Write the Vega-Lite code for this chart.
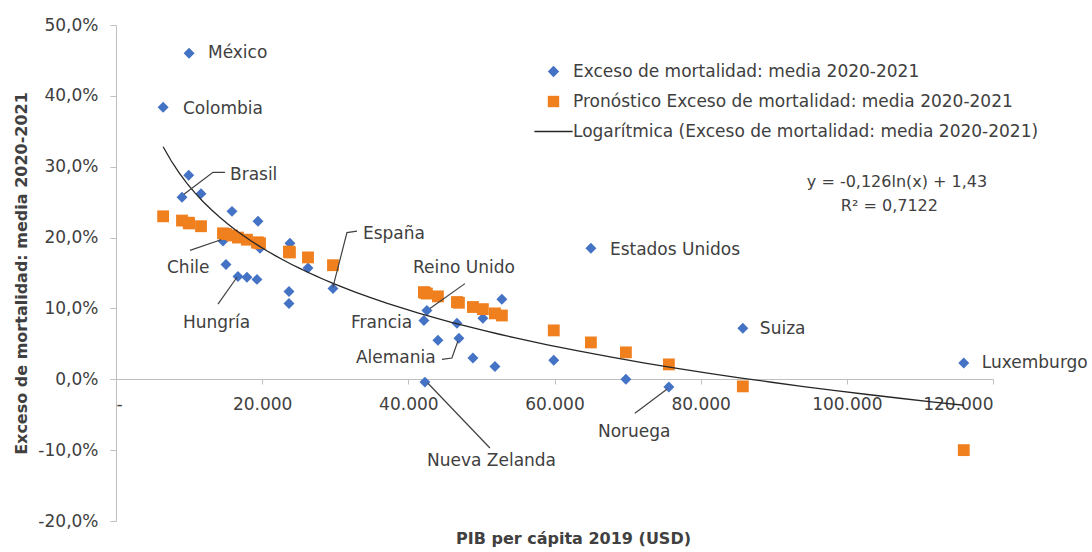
{
  "$schema": "https://vega.github.io/schema/vega-lite/v6.json",
  "width": 877,
  "height": 496,
  "autosize": "none",
  "padding": {"left": 116, "top": 25, "right": 99, "bottom": 31},
  "background": "white",
  "config": {
    "locale": {"number": {"decimal": ",", "thousands": ".", "grouping": [3], "currency": ["", " €"], "minus": "-"}},
    "view": {"stroke": null},
    "font": "DejaVu Sans",
    "text": {"font": "DejaVu Sans", "fontSize": 17, "color": "#404040", "align": "left", "baseline": "middle"}
  },
  "datasets": {
    "paises": [
      {"pais": "Colombia", "pib": 6450, "exceso": 0.384, "pronostico": 0.230},
      {"pais": "Brasil", "pib": 9030, "exceso": 0.257, "pronostico": 0.224},
      {"pais": "México", "pib": 10000, "exceso": 0.460, "pronostico": 0.220},
      {"pais": null, "pib": 9950, "exceso": 0.288, "pronostico": 0.221},
      {"pais": null, "pib": 11630, "exceso": 0.262, "pronostico": 0.216},
      {"pais": "Chile", "pib": 14640, "exceso": 0.195, "pronostico": 0.206},
      {"pais": null, "pib": 15050, "exceso": 0.162, "pronostico": 0.205},
      {"pais": null, "pib": 15870, "exceso": 0.237, "pronostico": 0.203},
      {"pais": "Hungría", "pib": 16690, "exceso": 0.145, "pronostico": 0.200},
      {"pais": null, "pib": 17920, "exceso": 0.144, "pronostico": 0.197},
      {"pais": null, "pib": 19290, "exceso": 0.141, "pronostico": 0.193},
      {"pais": null, "pib": 19430, "exceso": 0.223, "pronostico": 0.193},
      {"pais": null, "pib": 19700, "exceso": 0.185, "pronostico": 0.192},
      {"pais": null, "pib": 23670, "exceso": 0.124, "pronostico": 0.180},
      {"pais": null, "pib": 23670, "exceso": 0.107, "pronostico": 0.180},
      {"pais": null, "pib": 23800, "exceso": 0.192, "pronostico": 0.179},
      {"pais": null, "pib": 26270, "exceso": 0.157, "pronostico": 0.172},
      {"pais": "España", "pib": 29690, "exceso": 0.128, "pronostico": 0.161},
      {"pais": "Francia", "pib": 42130, "exceso": 0.083, "pronostico": 0.123},
      {"pais": "Nueva Zelanda", "pib": 42270, "exceso": -0.004, "pronostico": 0.122},
      {"pais": "Reino Unido", "pib": 42540, "exceso": 0.097, "pronostico": 0.121},
      {"pais": null, "pib": 44050, "exceso": 0.055, "pronostico": 0.117},
      {"pais": null, "pib": 46650, "exceso": 0.079, "pronostico": 0.109},
      {"pais": "Alemania", "pib": 46920, "exceso": 0.058, "pronostico": 0.108},
      {"pais": null, "pib": 48840, "exceso": 0.030, "pronostico": 0.102},
      {"pais": null, "pib": 50200, "exceso": 0.086, "pronostico": 0.099},
      {"pais": null, "pib": 51850, "exceso": 0.018, "pronostico": 0.093},
      {"pais": null, "pib": 52800, "exceso": 0.113, "pronostico": 0.090},
      {"pais": null, "pib": 59900, "exceso": 0.027, "pronostico": 0.069},
      {"pais": "Estados Unidos", "pib": 64980, "exceso": 0.185, "pronostico": 0.052},
      {"pais": null, "pib": 69770, "exceso": 0.000, "pronostico": 0.038},
      {"pais": "Noruega", "pib": 75650, "exceso": -0.011, "pronostico": 0.021},
      {"pais": "Suiza", "pib": 85770, "exceso": 0.072, "pronostico": -0.010},
      {"pais": "Luxemburgo", "pib": 116000, "exceso": 0.023, "pronostico": -0.100}
    ],
    "etiquetas": [
      {"texto": "México", "x": 12585, "y": 0.460},
      {"texto": "Colombia", "x": 9165, "y": 0.381},
      {"texto": "Brasil", "x": 15595, "y": 0.289},
      {"texto": "Chile", "x": 6977, "y": 0.157},
      {"texto": "Hungría", "x": 9165, "y": 0.080},
      {"texto": "España", "x": 33790, "y": 0.205},
      {"texto": "Reino Unido", "x": 40630, "y": 0.157},
      {"texto": "Francia", "x": 32150, "y": 0.079},
      {"texto": "Alemania", "x": 32830, "y": 0.030},
      {"texto": "Nueva Zelanda", "x": 42550, "y": -0.116},
      {"texto": "Estados Unidos", "x": 67580, "y": 0.183},
      {"texto": "Suiza", "x": 88100, "y": 0.071},
      {"texto": "Noruega", "x": 65940, "y": -0.075},
      {"texto": "Luxemburgo", "x": 118470, "y": 0.023}
    ],
    "ecuacion": [
      {"texto": "y = -0,126ln(x) + 1,43", "x": 94530, "y": 0.278},
      {"texto": "R² = 0,7122", "x": 99180, "y": 0.245}
    ],
    "guias": [
      {"id": "Brasil", "ord": 1, "x": 14911, "y": 0.292},
      {"id": "Brasil", "ord": 2, "x": 13269, "y": 0.292},
      {"id": "Brasil", "ord": 3, "x": 9302, "y": 0.261},
      {"id": "Chile", "ord": 1, "x": 10123, "y": 0.182},
      {"id": "Chile", "ord": 2, "x": 14364, "y": 0.197},
      {"id": "Hungría", "ord": 1, "x": 13953, "y": 0.106},
      {"id": "Hungría", "ord": 2, "x": 16553, "y": 0.144},
      {"id": "España", "ord": 1, "x": 32969, "y": 0.209},
      {"id": "España", "ord": 2, "x": 31601, "y": 0.207},
      {"id": "España", "ord": 3, "x": 29685, "y": 0.130},
      {"id": "Reino Unido", "ord": 1, "x": 47743, "y": 0.135},
      {"id": "Reino Unido", "ord": 2, "x": 42955, "y": 0.100},
      {"id": "Alemania", "ord": 1, "x": 44596, "y": 0.028},
      {"id": "Alemania", "ord": 2, "x": 45964, "y": 0.030},
      {"id": "Alemania", "ord": 3, "x": 46785, "y": 0.054},
      {"id": "Nueva Zelanda", "ord": 1, "x": 42681, "y": -0.0056},
      {"id": "Nueva Zelanda", "ord": 2, "x": 51163, "y": -0.097},
      {"id": "Noruega", "ord": 1, "x": 71000, "y": -0.048},
      {"id": "Noruega", "ord": 2, "x": 75376, "y": -0.014}
    ]
  },
  "layer": [
    {
      "data": {"name": "paises"},
      "mark": {"type": "point", "filled": true, "size": 120, "opacity": 1},
      "encoding": {
        "x": {
          "field": "pib", "type": "quantitative",
          "scale": {"domain": [0, 120000], "nice": false, "zero": false},
          "axis": {
            "title": "PIB per cápita 2019 (USD)",
            "values": [0, 20000, 40000, 60000, 80000, 100000, 120000],
            "format": ",d",
            "labelExpr": "datum.value === 0 ? '-' : datum.label",
            "offset": -142,
            "grid": false,
            "domainColor": "#bfbfbf", "tickColor": "#bfbfbf", "tickSize": 5,
            "labelPadding": 12, "labelFont": "DejaVu Sans", "labelFontSize": 17, "labelColor": "#404040",
            "titleFont": "DejaVu Sans", "titleFontSize": 16, "titleFontWeight": "bold", "titleColor": "#404040",
            "titleX": 457, "titleY": 159, "titleAlign": "center", "titleBaseline": "middle"
          }
        },
        "y": {
          "field": "exceso", "type": "quantitative",
          "scale": {"domain": [-0.2, 0.5], "nice": false, "zero": false},
          "axis": {
            "title": "Exceso de mortalidad: media 2020-2021",
            "values": [-0.2, -0.1, 0, 0.1, 0.2, 0.3, 0.4, 0.5],
            "format": ".1%",
            "grid": false,
            "domainColor": "#bfbfbf", "tickColor": "#bfbfbf", "tickSize": 6,
            "labelPadding": 12, "labelFont": "DejaVu Sans", "labelFontSize": 17, "labelColor": "#404040",
            "titleFont": "DejaVu Sans", "titleFontSize": 16, "titleFontWeight": "bold", "titleColor": "#404040",
            "titleX": -95, "titleBaseline": "middle"
          }
        },
        "color": {
          "datum": "Exceso de mortalidad: media 2020-2021", "type": "nominal",
          "scale": {
            "domain": ["Exceso de mortalidad: media 2020-2021", "Pronóstico Exceso de mortalidad: media 2020-2021", "Logarítmica (Exceso de mortalidad: media 2020-2021)"],
            "range": ["#4472C4", "#F07F1E", "#262626"]
          },
          "legend": {
            "orient": "none", "legendX": 429, "legendY": 38, "title": null, "padding": 0,
            "labelFont": "DejaVu Sans", "labelFontSize": 17, "labelColor": "#404040", "labelLimit": 600,
            "rowPadding": 12, "labelOffset": 11, "symbolSize": 130
          }
        },
        "shape": {
          "datum": "Exceso de mortalidad: media 2020-2021", "type": "nominal",
          "scale": {
            "domain": ["Exceso de mortalidad: media 2020-2021", "Pronóstico Exceso de mortalidad: media 2020-2021", "Logarítmica (Exceso de mortalidad: media 2020-2021)"],
            "range": ["diamond", "square", "M-3.35,-0.11H3.35V0.11H-3.35Z"]
          },
          "legend": {
            "orient": "none", "legendX": 429, "legendY": 38, "title": null, "padding": 0,
            "labelFont": "DejaVu Sans", "labelFontSize": 17, "labelColor": "#404040", "labelLimit": 600,
            "rowPadding": 12, "labelOffset": 11, "symbolSize": 130
          }
        }
      }
    },
    {
      "data": {"name": "paises"},
      "mark": {"type": "point", "filled": true, "size": 140, "opacity": 1},
      "encoding": {
        "x": {"field": "pib", "type": "quantitative"},
        "y": {"field": "pronostico", "type": "quantitative"},
        "color": {"datum": "Pronóstico Exceso de mortalidad: media 2020-2021", "type": "nominal"},
        "shape": {"datum": "Pronóstico Exceso de mortalidad: media 2020-2021", "type": "nominal"}
      }
    },
    {
      "data": {"name": "paises"},
      "transform": [{"regression": "exceso", "on": "pib", "method": "log"}],
      "mark": {"type": "line", "color": "#262626", "strokeWidth": 1.3},
      "encoding": {
        "x": {"field": "pib", "type": "quantitative"},
        "y": {"field": "exceso", "type": "quantitative"}
      }
    },
    {
      "data": {"name": "guias"},
      "mark": {"type": "line", "color": "#404040", "strokeWidth": 1.2},
      "encoding": {
        "x": {"field": "x", "type": "quantitative"},
        "y": {"field": "y", "type": "quantitative"},
        "detail": {"field": "id"},
        "order": {"field": "ord"}
      }
    },
    {
      "data": {"name": "etiquetas"},
      "mark": {"type": "text"},
      "encoding": {
        "x": {"field": "x", "type": "quantitative"},
        "y": {"field": "y", "type": "quantitative"},
        "text": {"field": "texto"}
      }
    },
    {
      "data": {"name": "ecuacion"},
      "mark": {"type": "text", "fontSize": 16},
      "encoding": {
        "x": {"field": "x", "type": "quantitative"},
        "y": {"field": "y", "type": "quantitative"},
        "text": {"field": "texto"}
      }
    }
  ]
}
